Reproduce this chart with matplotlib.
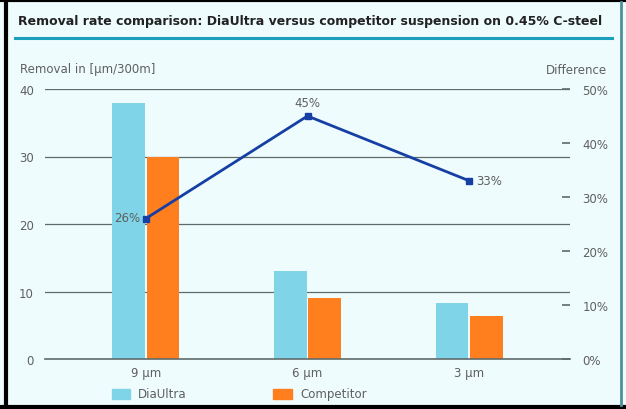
import matplotlib
matplotlib.use("Agg")
import matplotlib.pyplot as plt
from matplotlib.patches import Rectangle
from matplotlib.lines import Line2D
import numpy as np

categories = ["9 µm", "6 µm", "3 µm"]
diaultra = [38, 13, 8.3]
competitor = [30, 9, 6.3]
difference = [26, 45, 33]
diff_labels = ["26%", "45%", "33%"]
left_ticks = [0, 10, 20, 30, 40]
right_ticks = [0, 10, 20, 30, 40, 50]

BG = "#effcfd"
C_DIA = "#80d4e8"
C_COMP = "#ff7f1e"
C_LINE = "#153fa3"
C_TXT = "#5f5f5f"
C_GRID = "#5f6b6b"

W, H = 626, 410
fig = plt.figure(figsize=(W / 100, H / 100), dpi=100, facecolor=BG)

def fx(px):
    return px / W

def fy(py):
    return 1 - py / H

ax = fig.add_axes([fx(45), fy(360), fx(570) - fx(45), fy(90) - fy(360)])
ax.set_facecolor("none")
x = np.arange(len(categories))
bw = 0.2
ax.bar(x - bw / 2 - 0.006, diaultra, width=bw, color=C_DIA, zorder=2)
ax.bar(x + bw / 2 + 0.006, competitor, width=bw, color=C_COMP, zorder=2)
ax.set_xlim(-0.623, 2.623)
ax.set_ylim(0, 40)
ax.set_yticks(left_ticks)
ax.tick_params(axis="y", length=0, pad=8, labelsize=8.5, labelcolor=C_TXT)
ax.set_xticks(x)
ax.set_xticklabels(categories)
ax.tick_params(axis="x", length=0, pad=5, labelsize=8.5, labelcolor=C_TXT)
for s in ["top", "right", "left"]:
    ax.spines[s].set_visible(False)
ax.spines["bottom"].set_color(C_GRID)
ax.spines["bottom"].set_linewidth(1.2)
for v in left_ticks[1:]:
    ax.axhline(v, color=C_GRID, lw=0.9, zorder=1)

ax2 = ax.twinx()
ax2.set_ylim(0, 50)
ax2.set_yticks(right_ticks)
ax2.set_yticklabels([f"{t}%" for t in right_ticks])
ax2.tick_params(axis="y", direction="in", length=6, width=1.2, color=C_GRID,
                pad=9, labelsize=8.5, labelcolor=C_TXT)
for s in ["top", "right", "left", "bottom"]:
    ax2.spines[s].set_visible(False)
ax2.plot(x, difference, color=C_LINE, lw=2, marker="s", ms=4.5, zorder=5)
ax2.annotate(diff_labels[0], (x[0], difference[0]), xytext=(-4, 1), textcoords="offset points",
             ha="right", va="center", fontsize=8.5, color=C_TXT)
ax2.annotate(diff_labels[1], (x[1], difference[1]), xytext=(0, 5), textcoords="offset points",
             ha="center", va="bottom", fontsize=8.5, color=C_TXT)
ax2.annotate(diff_labels[2], (x[2], difference[2]), xytext=(5, 0), textcoords="offset points",
             ha="left", va="center", fontsize=8.5, color=C_TXT)

fig.text(fx(20), fy(70), "Removal in [µm/300m]", fontsize=8.5, color=C_TXT, ha="left", va="center")
fig.text(fx(607), fy(70), "Difference", fontsize=8.5, color=C_TXT, ha="right", va="center")

fig.text(fx(18), fy(21), "Removal rate comparison: DiaUltra versus competitor suspension on 0.45% C-steel",
         fontsize=9.0, fontweight="bold", color="#222222", ha="left", va="center")
fig.add_artist(Line2D([fx(15), fx(612)], [fy(39), fy(39)], color="#1b9fbd", lw=2.2))

# legend
fig.add_artist(Rectangle((fx(112), fy(400)), fx(18), fy(390) - fy(400), color=C_DIA, transform=fig.transFigure))
fig.text(fx(138), fy(395), "DiaUltra", fontsize=8.5, color=C_TXT, ha="left", va="center")
fig.add_artist(Rectangle((fx(273), fy(400)), fx(19), fy(390) - fy(400), color=C_COMP, transform=fig.transFigure))
fig.text(fx(300), fy(395), "Competitor", fontsize=8.5, color=C_TXT, ha="left", va="center")

# frame
fig.add_artist(Line2D([fx(6), fx(6)], [0, 1], color="black", lw=3))
fig.add_artist(Line2D([0, 1], [fy(1), fy(1)], color="black", lw=3))
fig.add_artist(Line2D([0, 1], [fy(408), fy(408)], color="black", lw=3))
fig.add_artist(Line2D([fx(621), fx(621)], [fy(3), fy(406)], color="#4f8f9a", lw=2))

fig.savefig("out.png", dpi=100, facecolor=BG)
